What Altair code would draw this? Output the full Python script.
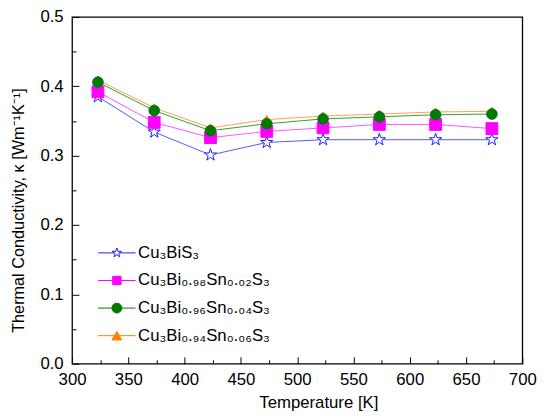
import altair as alt
import pandas as pd

# ---- data ----
temps = [323, 373, 423, 473, 523, 573, 623, 673]
k_bis = [0.385, 0.334, 0.301, 0.319, 0.323, 0.323, 0.323, 0.323]
k_sn02 = [0.392, 0.348, 0.326, 0.335, 0.340, 0.345, 0.345, 0.339]
k_sn04 = [0.406, 0.365, 0.336, 0.346, 0.353, 0.356, 0.359, 0.360]
k_sn06 = [0.409, 0.369, 0.340, 0.352, 0.357, 0.360, 0.363, 0.364]

series = ["Cu₃BiS₃", "Cu₃Bi₀.₉₈Sn₀.₀₂S₃", "Cu₃Bi₀.₉₆Sn₀.₀₄S₃", "Cu₃Bi₀.₉₄Sn₀.₀₆S₃"]
values = [k_bis, k_sn02, k_sn04, k_sn06]
draw_order = [0, 1, 3, 2]  # circles drawn above triangles

x_major = [300, 350, 400, 450, 500, 550, 600, 650, 700]
x_minor = [325, 375, 425, 475, 525, 575, 625, 675]
y_major = [0.0, 0.1, 0.2, 0.3, 0.4, 0.5]
y_minor = [0.05, 0.15, 0.25, 0.35, 0.45]

stroke_colors = ["#1a1aff", "#ff00ff", "#007a00", "#ff7f00"]
line_colors = ["#5555ff", "#ff55ff", "#33a033", "#ffa050"]
fill_colors = ["#ffffff", "#ff00ff", "#007a00", "#ff7f00"]

STAR = ("M0,-1L0.2245,-0.309L0.951,-0.309L0.363,0.118L0.588,0.809L0,0.382"
        "L-0.588,0.809L-0.363,0.118L-0.951,-0.309L-0.2245,-0.309Z")
plot_shapes = [STAR, "square", "circle", "triangle-up"]
plot_sizes = [170, 90, 135, 140]

legend_shapes = [
    STAR + " M-3.8,0L-0.53,0 M0.53,0L3.8,0",
    "M-0.85,-0.85L0.85,-0.85L0.85,0.85L-0.85,0.85Z M-3.8,0L-0.85,0 M0.85,0L3.8,0",
    "M-1,0A1,1,0,1,1,1,0A1,1,0,1,1,-1,0Z M-3.8,0L-1,0 M1,0L3.8,0",
    "M0,-0.866L1,0.866L-1,0.866Z M-3.8,0L-0.5,0 M0.5,0L3.8,0",
]

rows = []
for si in range(len(series)):
    for t, k in zip(temps, values[si]):
        rows.append({"T": t, "k": k, "series": series[si], "z": draw_order[si]})
df = pd.DataFrame(rows)

W, H = 457, 352
FONT = "Liberation Sans"

xs = alt.Scale(domain=[300, 700], nice=False, zero=False)
ys = alt.Scale(domain=[0, 0.5], nice=False)

lines = alt.Chart(df).mark_line(strokeWidth=1).encode(
    x=alt.X("T:Q", scale=xs, axis=alt.Axis(
        values=x_major, format="d", ticks=False, tickSize=0, domain=False, grid=False,
        labelFlush=False, labelPadding=8, labelFont=FONT, labelFontSize=17, labelColor="black",
        title="Temperature [K]", titleFont=FONT, titleFontSize=17, titleFontWeight="normal",
        titleColor="black", titleX=250, titleY=44, titleBaseline="alphabetic", titleAlign="center")),
    y=alt.Y("k:Q", scale=ys, axis=alt.Axis(
        values=y_major, format=".1f", ticks=False, tickSize=0, domain=False, grid=False,
        labelFlush=False, labelPadding=9, labelFont=FONT, labelFontSize=17, labelColor="black",
        title="Thermal Conductivity, κ [Wm⁻¹K⁻¹]", titleFont=FONT, titleFontSize=16.5,
        titleFontWeight="normal", titleColor="black", titleX=-54, titleY=196,
        titleBaseline="middle", titleAlign="center", titleAngle=270)),
    color=alt.Color("series:N", scale=alt.Scale(domain=series, range=line_colors), legend=None),
)

points = alt.Chart(df).mark_point(strokeWidth=1, opacity=1, fillOpacity=1).encode(
    x=alt.X("T:Q", scale=xs, axis=alt.Axis(
        orient="top", offset=-H, values=x_major, labels=False, domain=False, grid=False,
        ticks=True, tickSize=7, tickColor="black", tickWidth=1, title=None)),
    y=alt.Y("k:Q", scale=ys, axis=alt.Axis(
        orient="right", offset=-W, values=y_major, labels=False, domain=False, grid=False,
        ticks=True, tickSize=7, tickColor="black", tickWidth=1, title=None)),
    shape=alt.Shape("series:N", scale=alt.Scale(domain=series, range=plot_shapes), legend=None),
    fill=alt.Fill("series:N", scale=alt.Scale(domain=series, range=fill_colors), legend=None),
    stroke=alt.Stroke("series:N", scale=alt.Scale(domain=series, range=stroke_colors), legend=None),
    size=alt.Size("series:N", scale=alt.Scale(domain=series, range=plot_sizes), legend=None),
    order=alt.Order("z:Q"),
)

leg = alt.Legend(orient="none", legendX=37, legendY=231, title=None, labelFont=FONT,
                 labelFontSize=17, labelColor="black", labelOffset=13, rowPadding=10,
                 padding=0, symbolStrokeWidth=1)

legend_layer = alt.Chart(df).transform_filter("datum.T < 0").mark_point(
    strokeWidth=1, size=100, opacity=1, fillOpacity=1).encode(
    x=alt.X("T:Q", scale=xs, axis=alt.Axis(
        orient="top", offset=-H, values=x_minor, labels=False, domain=False, grid=False,
        ticks=True, tickSize=4, tickColor="black", tickWidth=1, title=None)),
    y=alt.Y("k:Q", scale=ys, axis=alt.Axis(
        orient="right", offset=-W, values=y_minor, labels=False, domain=False, grid=False,
        ticks=True, tickSize=4, tickColor="black", tickWidth=1, title=None)),
    shape=alt.Shape("series:N", scale=alt.Scale(domain=series, range=legend_shapes), legend=leg),
    fill=alt.Fill("series:N", scale=alt.Scale(domain=series, range=fill_colors), legend=leg),
    stroke=alt.Stroke("series:N", scale=alt.Scale(domain=series, range=stroke_colors), legend=leg),
)

chart = alt.layer(lines, points, legend_layer).resolve_scale(
    color="independent", shape="independent", fill="independent",
    stroke="independent", size="independent",
).resolve_axis(x="independent", y="independent").properties(
    width=W, height=H, autosize="none", background="white",
    padding={"left": 65, "top": 6, "right": 20, "bottom": 52},
).configure_view(stroke="black", strokeWidth=1.3)

chart.save("out.html", embed_options={"renderer": "svg", "actions": False})
